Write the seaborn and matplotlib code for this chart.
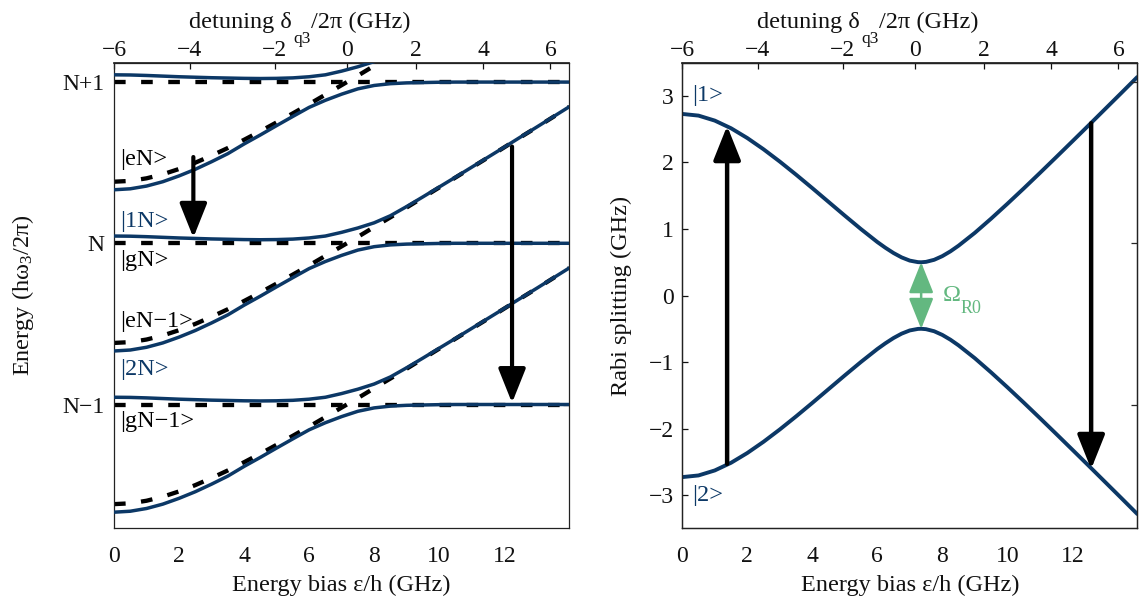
import matplotlib
matplotlib.use("Agg")
import matplotlib.pyplot as plt
import seaborn as sns

# ---------------------------------------------------------------------------
# Data
# ---------------------------------------------------------------------------
# energy bias grid (GHz)
eps = [0.0, 0.5, 1.0, 1.5, 2.0, 2.5, 3.0, 3.5, 4.0, 4.5, 5.0, 5.5, 6.0, 6.5,
       7.0, 7.5, 8.0, 8.5, 9.0, 9.5, 10.0, 10.5, 11.0, 11.5, 12.0, 12.5,
       13.0, 13.5, 14.0]

# bare |e,N-1> level measured from the photon level N (units of h*omega_3/2pi)
bare_rise = [-0.618, -0.613, -0.597, -0.572, -0.539, -0.500, -0.456, -0.409,
             -0.358, -0.305, -0.250, -0.194, -0.137, -0.078, -0.019, 0.040,
             0.101, 0.161, 0.222, 0.284, 0.346, 0.408, 0.470, 0.532, 0.595,
             0.658, 0.720, 0.783, 0.846]

# dressed branches measured from the photon level N
dressed_upper = [0.045, 0.044, 0.041, 0.037, 0.033, 0.030, 0.027, 0.025,
                 0.023, 0.022, 0.023, 0.026, 0.033, 0.045, 0.068, 0.095,
                 0.127, 0.171, 0.228, 0.288, 0.349, 0.410, 0.472, 0.534,
                 0.596, 0.659, 0.721, 0.784, 0.847]
dressed_lower = [-0.668, -0.662, -0.645, -0.618, -0.582, -0.541, -0.494,
                 -0.444, -0.384, -0.328, -0.270, -0.213, -0.157, -0.113,
                 -0.075, -0.042, -0.021, -0.010, -0.005, -0.003, -0.001,
                 0.0, 0.0, 0.0, 0.0, 0.0, 0.0, 0.0, 0.0]

photon_levels = [1, 0, -1]
level_labels = ["N+1", "N", "N\u22121"]

# state labels in the level diagram
state_text = ["|eN>", "|1N>", "|gN>", "|eN\u22121>", "|2N>", "|gN\u22121>"]
state_x = [0.18, 0.18, 0.18, 0.18, 0.18, 0.18]
state_y = [0.517, 0.134, -0.104, -0.486, -0.780, -1.107]
state_dressed = [False, True, False, False, True, False]

# transitions drawn in the level diagram: eps, start energy, end energy
level_arrow_eps = [2.44, 12.24]
level_arrow_from = [0.535, 0.600]
level_arrow_to = [0.035, -0.990]

# Rabi splitting branches (GHz)
rabi_eps = [0.0, 0.5, 1.0, 1.5, 2.0, 2.5, 3.0, 3.5, 4.0, 4.5, 5.0, 5.5, 6.0,
            6.25, 6.5, 6.75, 7.0, 7.25, 7.35, 7.5, 7.75, 8.0, 8.25, 8.5, 9.0,
            9.5, 10.0, 10.5, 11.0, 11.5, 12.0, 12.5, 13.0, 13.5, 14.0]
rabi_upper = [2.730, 2.705, 2.630, 2.515, 2.368, 2.199, 2.014, 1.818, 1.615,
              1.408, 1.201, 0.998, 0.805, 0.718, 0.639, 0.573, 0.525, 0.502,
              0.500, 0.506, 0.537, 0.592, 0.664, 0.749, 0.942, 1.155, 1.378,
              1.607, 1.841, 2.078, 2.317, 2.557, 2.799, 3.041, 3.285]
rabi_lower = [-v for v in rabi_upper]

# transitions between the Rabi branches: eps, start, end (GHz)
rabi_arrow_eps = [1.38, 12.58]
rabi_arrow_from = [-2.53, 2.59]
rabi_arrow_to = [2.55, -2.61]

# minimum splitting Omega_R0
gap_eps = 7.35
gap_low, gap_high = -0.50, 0.50

# detuning axis: tick positions on the bias axis and their labels
detuning_tick_eps = [0.0, 2.33, 4.94, 7.17, 9.28, 11.36, 13.42]
detuning_tick_labels = [-6, -4, -2, 0, 2, 4, 6]

# ---------------------------------------------------------------------------
# Style
# ---------------------------------------------------------------------------
sns.set_theme(style="white")
plt.rcParams["font.family"] = ["Liberation Serif", "DejaVu Serif"]
plt.rcParams["mathtext.fontset"] = "custom"
plt.rcParams["mathtext.rm"] = "Liberation Serif"
plt.rcParams["mathtext.it"] = "Liberation Serif:italic"
plt.rcParams["axes.unicode_minus"] = True
plt.rcParams["xtick.direction"] = "in"
plt.rcParams["ytick.direction"] = "in"

NAVY = "#0c3866"
GREEN = "#63b880"
INK = "#111111"
TICK_FS = 17
LABEL_FS = 17.5
SUB_FS = 12.5
STATE_FS = 17.5

fig = plt.figure(figsize=(11.39, 6.02), dpi=100)
ax1 = fig.add_axes([0.1001, 0.1224, 0.3997, 0.7734])
ax2 = fig.add_axes([0.5990, 0.1224, 0.3995, 0.7734])


def minus(v):
    return f"{v}".replace("-", "\u2212")


def frame(ax):
    for s in ax.spines.values():
        s.set_visible(True)
        s.set_color("#222222")
        s.set_linewidth(0.9)


def detuning_axis(ax):
    sec = ax.secondary_xaxis("top")
    sec.set_xticks(detuning_tick_eps,
                   labels=[minus(v) for v in detuning_tick_labels])
    sec.tick_params(direction="in", length=4, width=0.9, pad=1.5,
                    labelsize=TICK_FS, colors=INK)
    sec.spines["top"].set_color("#222222")
    # axis title with a low-set subscript
    head = ax.text(0.165, 1.0745, "detuning \u03b4", transform=ax.transAxes,
                   ha="left", va="baseline", fontsize=LABEL_FS, color=INK)
    sub = ax.annotate("q3", xy=(1, 0), xycoords=head, xytext=(1, -7.2),
                      textcoords="offset points", ha="left", va="baseline",
                      fontsize=SUB_FS, color=INK)
    ax.annotate("/2\u03c0 (GHz)", xy=(1, 0), xycoords=(sub, head),
                ha="left", va="bottom", fontsize=LABEL_FS, color=INK)
    return sec


def draw_arrow(ax, x, y0, y1, color, lw, style):
    ax.annotate("", xy=(x, y1), xytext=(x, y0),
                arrowprops=dict(arrowstyle=style, color=color, lw=lw,
                                shrinkA=0, shrinkB=0, mutation_scale=20),
                zorder=6)


# ---------------------------------------------------------------------------
# Left: dressed level diagram
# ---------------------------------------------------------------------------
dash = (0, (2.7, 3.6))
for lvl in photon_levels:
    sns.lineplot(x=[eps[0], eps[-1]], y=[lvl, lvl], ax=ax1, color="black",
                 linewidth=3.1, linestyle=dash, errorbar=None, zorder=2)
    sns.lineplot(x=eps, y=[lvl + v for v in bare_rise], ax=ax1,
                 color="black", linewidth=3.1, linestyle=dash,
                 errorbar=None, zorder=2)
for lvl in photon_levels:
    sns.lineplot(x=eps, y=[lvl + v for v in dressed_upper], ax=ax1,
                 color=NAVY, linewidth=2.5, errorbar=None, zorder=3)
    sns.lineplot(x=eps, y=[lvl + v for v in dressed_lower], ax=ax1,
                 color=NAVY, linewidth=2.5, errorbar=None, zorder=3)

for x, y0, y1 in zip(level_arrow_eps, level_arrow_from, level_arrow_to):
    draw_arrow(ax1, x, y0, y1, "black", 3.0,
               "-|>,head_length=1.05,head_width=0.42")

for txt, x, y, dressed in zip(state_text, state_x, state_y, state_dressed):
    ax1.text(x, y, txt, fontsize=STATE_FS, va="center", ha="left",
             color=NAVY if dressed else "black", zorder=7)

ax1.set_xlim(0, 14)
ax1.set_ylim(-1.768, 1.12)
ax1.set_xticks([0, 2, 4, 6, 8, 10, 12])
ax1.set_yticks(photon_levels, labels=level_labels)
ax1.tick_params(axis="x", length=4, width=0.9, pad=13, labelsize=TICK_FS,
                colors=INK, top=False)
ax1.tick_params(axis="y", length=4, width=0.9, pad=7, labelsize=TICK_FS,
                colors=INK, left=True, right=True)
ax1.set_xlabel("Energy bias \u03b5/h (GHz)", fontsize=LABEL_FS, color=INK)
ax1.set_ylabel("Energy (h\u03c9$_{\\mathrm{3}}$/2\u03c0)", fontsize=LABEL_FS,
               color=INK)
ax1.xaxis.set_label_coords(0.5, -0.10)
ax1.yaxis.set_label_coords(-0.171, 0.5)
frame(ax1)
detuning_axis(ax1)

# ---------------------------------------------------------------------------
# Right: Rabi splitting
# ---------------------------------------------------------------------------
sns.lineplot(x=rabi_eps, y=rabi_upper, ax=ax2, color=NAVY, linewidth=2.8,
             errorbar=None, zorder=3)
sns.lineplot(x=rabi_eps, y=rabi_lower, ax=ax2, color=NAVY, linewidth=2.8,
             errorbar=None, zorder=3)

for x, y0, y1 in zip(rabi_arrow_eps, rabi_arrow_from, rabi_arrow_to):
    draw_arrow(ax2, x, y0, y1, "black", 3.2,
               "-|>,head_length=1.05,head_width=0.42")
draw_arrow(ax2, gap_eps, gap_low, gap_high, GREEN, 1.8,
           "<|-|>,head_length=0.95,head_width=0.38")

ax2.text(0.3, 3.0, "|1>", fontsize=STATE_FS, color=NAVY, va="center",
         ha="left", zorder=7)
ax2.text(0.3, -3.0, "|2>", fontsize=STATE_FS, color=NAVY, va="center",
         ha="left", zorder=7)
omega = ax2.text(8.0, -0.075, "\u03a9", fontsize=STATE_FS, color=GREEN,
                 va="baseline", ha="left", zorder=7)
ax2.annotate("R0", xy=(1, 0), xycoords=omega, xytext=(0.5, -5.3),
             textcoords="offset points", ha="left", va="baseline",
             fontsize=SUB_FS + 0.5, color=GREEN, zorder=7)

ax2.set_xlim(0, 14)
ax2.set_ylim(-3.5, 3.5)
ax2.set_xticks([0, 2, 4, 6, 8, 10, 12])
ax2.set_yticks([-3, -2, -1, 0, 1, 2, 3],
               labels=[minus(v) for v in [-3, -2, -1, 0, 1, 2, 3]])
ax2.tick_params(axis="x", length=4, width=0.9, pad=13, labelsize=TICK_FS,
                colors=INK, top=False)
ax2.tick_params(axis="y", length=4, width=0.9, pad=6, labelsize=TICK_FS,
                colors=INK, left=True, right=False)
ax2.set_xlabel("Energy bias \u03b5/h (GHz)", fontsize=LABEL_FS, color=INK)
ax2.set_ylabel("Rabi splitting (GHz)", fontsize=LABEL_FS, color=INK)
ax2.xaxis.set_label_coords(0.5, -0.10)
ax2.yaxis.set_label_coords(-0.111, 0.5)
frame(ax2)
detuning_axis(ax2)

# level-scale ticks carried on the right edge
twin = ax2.twinx()
twin.set_ylim(ax1.get_ylim())
twin.set_yticks(photon_levels, labels=[])
twin.tick_params(axis="y", direction="in", length=4, width=0.9, right=True)
frame(twin)

fig.savefig("out.png", dpi=100)
